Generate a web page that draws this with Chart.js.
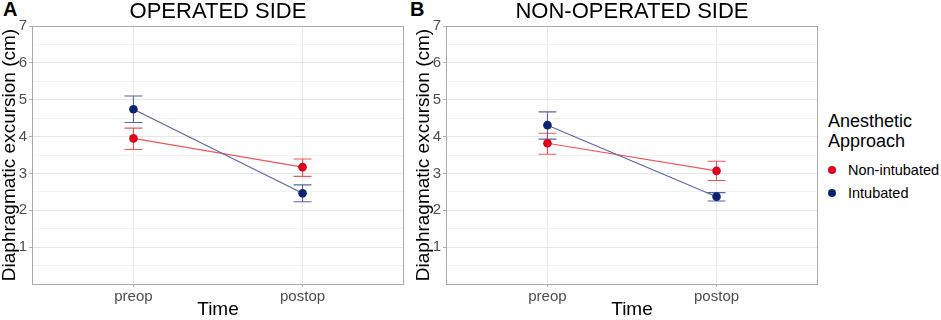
<!DOCTYPE html>
<html>
<head>
<meta charset="utf-8">
<script src="https://cdn.jsdelivr.net/npm/chart.js@4/dist/chart.umd.min.js"></script>
<style>
  body { margin: 0; background: #fff; width: 941px; height: 320px; position: relative; overflow: hidden; font-family: "Liberation Sans", Arial, sans-serif; }
  canvas { position: absolute; top: 0; }
  .letra { position: absolute; top: -1px; font-size: 20px; line-height: 20px; font-weight: bold; color: #000; }
  .legenda { position: absolute; left: 828px; top: 111px; color: #000; }
  .legenda-titulo { font-size: 18px; line-height: 20px; }
  .legenda-item { position: relative; font-size: 14.5px; line-height: 23px; padding-left: 20px; }
  .legenda-item span { position: absolute; left: 0; top: 7px; width: 8px; height: 8px; border-radius: 50%; }
</style>
</head>
<body>
<div class="letra" style="left:3px">A</div>
<div class="letra" style="left:410px">B</div>
<canvas id="graficoA" width="410" height="320" style="left:0"></canvas>
<canvas id="graficoB" width="410" height="320" style="left:414px"></canvas>
<div class="legenda">
  <div class="legenda-titulo">Anesthetic<br>Approach</div>
  <div style="height:8px"></div>
  <div class="legenda-item"><span style="background:#e0001b"></span>Non-intubated</div>
  <div class="legenda-item"><span style="background:#0b2470"></span>Intubated</div>
</div>
<script>
// dados
const momentos = ['preop', 'postop'];
const grupos = ['Non-intubated', 'Intubated'];

// lado operado
const operadoNaoIntubado = [3.95, 3.17];
const operadoNaoIntubadoMin = [3.65, 2.92];
const operadoNaoIntubadoMax = [4.23, 3.39];
const operadoIntubado = [4.74, 2.46];
const operadoIntubadoMin = [4.38, 2.23];
const operadoIntubadoMax = [5.10, 2.69];

// lado nao operado
const naoOperadoNaoIntubado = [3.82, 3.07];
const naoOperadoNaoIntubadoMin = [3.52, 2.81];
const naoOperadoNaoIntubadoMax = [4.09, 3.33];
const naoOperadoIntubado = [4.31, 2.37];
const naoOperadoIntubadoMin = [3.93, 2.25];
const naoOperadoIntubadoMax = [4.67, 2.48];

const yTicks = [1, 2, 3, 4, 5, 6, 7];

const corPonto = ['#e0001b', '#0b2470'];
const corLinha = ['#f25459', '#5a63a8'];
const fonte = '"Liberation Sans", Arial, sans-serif';

// desenha borda do painel, barras de erro e titulo
const pluginPainel = {
    id: 'painel',
    beforeDatasetsDraw(chart, args, opts) {
        const ctx = chart.ctx;
        const area = chart.chartArea;
        const x = chart.scales.x;
        const y = chart.scales.y;
        ctx.save();
        for (let g = 0; g < opts.minimos.length; g++) {
            ctx.strokeStyle = corLinha[g];
            ctx.lineWidth = 1.1;
            for (let i = 0; i < momentos.length; i++) {
                let px = x.getPixelForValue(i);
                let x1 = x.getPixelForValue(i - 0.053);
                let x2 = x.getPixelForValue(i + 0.053);
                let y1 = y.getPixelForValue(opts.minimos[g][i]);
                let y2 = y.getPixelForValue(opts.maximos[g][i]);
                ctx.beginPath();
                ctx.moveTo(px, y1); ctx.lineTo(px, y2);
                ctx.moveTo(x1, y1); ctx.lineTo(x2, y1);
                ctx.moveTo(x1, y2); ctx.lineTo(x2, y2);
                ctx.stroke();
            }
        }
        ctx.restore();
    },
    afterDraw(chart, args, opts) {
        const ctx = chart.ctx;
        const area = chart.chartArea;
        ctx.save();
        ctx.strokeStyle = '#ababab';
        ctx.lineWidth = 1;
        ctx.strokeRect(area.left + 0.5, area.top + 0.5, area.right - area.left - 1, area.bottom - area.top);
        ctx.fillStyle = '#000';
        ctx.font = '22px ' + fonte;
        ctx.textAlign = 'center';
        ctx.textBaseline = 'alphabetic';
        ctx.fillText(opts.titulo, (area.left + area.right) / 2, 18);
        ctx.restore();
    }
};

function montarGrafico(idCanvas, titulo, medias, minimos, maximos) {
    let datasets = [];
    for (let g = 0; g < grupos.length; g++) {
        datasets.push({
            label: grupos[g],
            data: medias[g].map((v, i) => ({ x: i, y: v })),
            showLine: true,
            borderColor: corLinha[g],
            borderWidth: 1.1,
            pointRadius: 4.3,
            pointBorderWidth: 0,
            pointBackgroundColor: corPonto[g],
            order: grupos.length - g
        });
    }

    const config = {
        type: 'scatter',
        data: { datasets: datasets },
        plugins: [pluginPainel],
        options: {
            responsive: false,
            animation: false,
            layout: { padding: { top: 26, right: 6, bottom: 0, left: 0 } },
            plugins: {
                legend: { display: false },
                tooltip: { enabled: false },
                painel: { titulo: titulo, minimos: minimos, maximos: maximos }
            },
            scales: {
                x: {
                    type: 'linear',
                    min: -0.6,
                    max: 1.6,
                    afterBuildTicks: (scale) => { scale.ticks = momentos.map((m, i) => ({ value: i })); },
                    afterFit: (scale) => { scale.height = 36; },
                    border: { display: false },
                    grid: { color: '#e8e8e8', tickColor: '#b3b3b3', tickLength: 3 },
                    ticks: {
                        color: '#4d4d4d',
                        font: { family: fonte, size: 15 },
                        padding: 1,
                        maxRotation: 0,
                        callback: (v) => momentos[v]
                    },
                    title: {
                        display: true,
                        text: 'Time',
                        color: '#000',
                        font: { family: fonte, size: 19, lineHeight: 1 },
                        padding: { top: 0, bottom: 1 }
                    }
                },
                y: {
                    type: 'linear',
                    min: 0,
                    max: 7,
                    afterFit: (scale) => { scale.width = 32; },
                    border: { display: false },
                    grid: {
                        color: (c) => Number.isInteger(c.tick.value) ? '#e6e6e6' : '#f3f3f3',
                        tickColor: (c) => (Number.isInteger(c.tick.value) && yTicks.includes(c.tick.value)) ? '#b3b3b3' : 'rgba(0,0,0,0)',
                        tickLength: 3
                    },
                    ticks: {
                        stepSize: 0.5,
                        autoSkip: false,
                        color: '#4d4d4d',
                        font: { family: fonte, size: 15 },
                        padding: 2,
                        callback: (v) => yTicks.includes(v) ? v : ''
                    },
                    title: {
                        display: true,
                        text: 'Diaphragmatic excursion (cm)',
                        color: '#000',
                        font: { family: fonte, size: 19, lineHeight: 1 },
                        padding: { top: 0.5, bottom: 0 }
                    }
                }
            }
        }
    };

    return new Chart(document.getElementById(idCanvas), config);
}

montarGrafico('graficoA', 'OPERATED SIDE',
    [operadoNaoIntubado, operadoIntubado],
    [operadoNaoIntubadoMin, operadoIntubadoMin],
    [operadoNaoIntubadoMax, operadoIntubadoMax]);

montarGrafico('graficoB', 'NON-OPERATED SIDE',
    [naoOperadoNaoIntubado, naoOperadoIntubado],
    [naoOperadoNaoIntubadoMin, naoOperadoIntubadoMin],
    [naoOperadoNaoIntubadoMax, naoOperadoIntubadoMax]);
</script>
</body>
</html>
